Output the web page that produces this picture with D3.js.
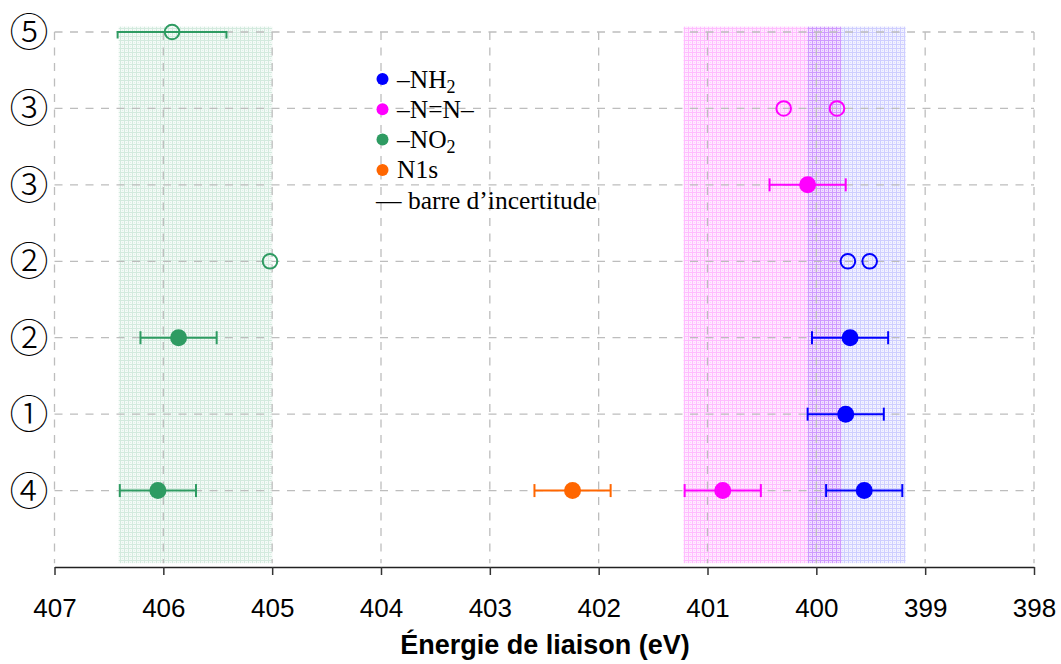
<!DOCTYPE html>
<html><head><meta charset="utf-8">
<script src="https://cdn.jsdelivr.net/npm/d3@7"></script>
<style>body{margin:0;background:#fff}svg{display:block}</style>
</head><body><svg id="c" width="1061" height="664"></svg>
<script>
// ---- data ----
const rowLabels = ["④","①","②","②","③","③","⑤"]; // rows 1..7, bottom to top
const xTicks = [407,406,405,404,403,402,401,400,399,398];
const legendItems = ["NH2","NN","NO2","N1s"];
const legendText = ["–NH|2","–N=N–","–NO|2","N1s"];
const bands = [
  {series:"NO2", from:406.41, to:405.0},
  {series:"NN",  from:401.22, to:399.77},
  {series:"NH2", from:400.08, to:399.18}
];
const nh2Filled = [{row:1,x:399.56,err:0.35},{row:2,x:399.73,err:0.35},{row:3,x:399.69,err:0.35}];
const nh2Open   = [{row:4,x:399.71},{row:4,x:399.51}];
const nnFilled  = [{row:1,x:400.86,err:0.35},{row:5,x:400.08,err:0.35}];
const nnOpen    = [{row:6,x:400.30},{row:6,x:399.81}];
const no2Filled = [{row:1,x:406.05,err:0.35},{row:3,x:405.86,err:0.35}];
const no2Open   = [{row:4,x:405.02},{row:7,x:405.92,err:0.5}];
const n1sFilled = [{row:1,x:402.24,err:0.35}];

// ---- styles ----
const colors = {NH2:"#0000ff", NN:"#ff00ff", NO2:"#2e9b62", N1s:"#ff6600"};
const svg = d3.select("#c");
const x = d3.scaleLinear().domain([407,398]).range([54.5,1034]);
const y = d3.scaleLinear().domain([0,7]).range([567,32]);

// patterns
const defs = svg.append("defs");
const patCol = {NO2:[46,155,98,0.05,0.17], NN:[255,0,255,0.08,0.2], NH2:[40,40,255,0.06,0.18]};
Object.entries(patCol).forEach(([k,v])=>{
  const p = defs.append("pattern").attr("id","p"+k).attr("patternUnits","userSpaceOnUse")
    .attr("width",4).attr("height",4);
  const c = `rgb(${v[0]},${v[1]},${v[2]})`;
  p.append("rect").attr("width",4).attr("height",4).attr("fill",c).attr("fill-opacity",v[3]);
  p.append("rect").attr("x",0).attr("y",0).attr("width",4).attr("height",1).attr("fill",c).attr("fill-opacity",v[4]);
  p.append("rect").attr("x",0).attr("y",1).attr("width",1).attr("height",3).attr("fill",c).attr("fill-opacity",v[4]);
  p.append("rect").attr("x",2).attr("y",2).attr("width",1).attr("height",1).attr("fill",c).attr("fill-opacity",v[4]*0.6);
});
defs.append("clipPath").attr("id","clipE").append("rect")
  .attr("x",0).attr("y",y(7)-1).attr("width",1061).attr("height",600);

// bands
svg.append("g").selectAll("rect").data(bands).join("rect")
  .attr("x",d=>x(d.from)).attr("width",d=>x(d.to)-x(d.from))
  .attr("y",y(7.07)).attr("height",y(0.05)-y(7.07))
  .attr("fill",d=>`url(#p${d.series})`);

// grid
const grid = svg.append("g").attr("stroke","#bdbdbd").attr("stroke-width",1.3).attr("stroke-dasharray","8,7.5");
grid.selectAll(".v").data(xTicks).join("line")
  .attr("x1",d=>x(d)).attr("x2",d=>x(d)).attr("y1",y(7)).attr("y2",y(0.05));
grid.selectAll(".h").data(d3.range(1,8)).join("line")
  .attr("x1",x(407)).attr("x2",x(398)).attr("y1",d=>y(d)).attr("y2",d=>y(d));

// x axis
const ax = svg.append("g").attr("transform",`translate(0,${y(0)})`)
  .call(d3.axisBottom(x).tickValues(xTicks).tickFormat(d3.format("d")).tickSize(8).tickSizeOuter(0));
ax.select(".domain").attr("stroke","#222").attr("stroke-width",1.5);
ax.selectAll(".tick line").attr("stroke","#333").attr("stroke-width",1.5);
ax.selectAll(".tick text").attr("font-family","'Liberation Sans', Arial, sans-serif")
  .attr("font-size",26).attr("fill","#000").attr("dy",0).attr("y",50);
svg.append("text").attr("x",545).attr("y",654).attr("text-anchor","middle")
  .attr("font-family","'Liberation Sans', Arial, sans-serif").attr("font-weight","bold")
  .attr("font-size",27).text("Énergie de liaison (eV)");

// y labels
svg.append("g").selectAll("text").data(rowLabels).join("text")
  .attr("x",29).attr("y",(d,i)=>y(i+1)).attr("dy","0.36em").attr("text-anchor","middle")
  .attr("font-family","'Noto Sans CJK JP', 'DejaVu Sans', sans-serif").attr("font-size",39)
  .attr("font-weight",300)
  .text(d=>d);

// error bars + points
const sets = [
  [n1sFilled,"N1s",true],[no2Filled,"NO2",true],[no2Open,"NO2",false],
  [nnFilled,"NN",true],[nnOpen,"NN",false],[nh2Filled,"NH2",true],[nh2Open,"NH2",false]
];
const eg = svg.append("g").attr("clip-path","url(#clipE)");
const pg = svg.append("g");
sets.forEach(([data,key,filled])=>{
  const c = colors[key];
  const withErr = data.filter(d=>d.err);
  const g = eg.append("g").attr("stroke",c).attr("stroke-width",2);
  g.selectAll(".eb").data(withErr).join("line")
    .attr("x1",d=>x(d.x+d.err)).attr("x2",d=>x(d.x-d.err)).attr("y1",d=>y(d.row)).attr("y2",d=>y(d.row));
  g.selectAll(".c1").data(withErr).join("line")
    .attr("x1",d=>x(d.x+d.err)).attr("x2",d=>x(d.x+d.err)).attr("y1",d=>y(d.row)-6.5).attr("y2",d=>y(d.row)+6.5);
  g.selectAll(".c2").data(withErr).join("line")
    .attr("x1",d=>x(d.x-d.err)).attr("x2",d=>x(d.x-d.err)).attr("y1",d=>y(d.row)-6.5).attr("y2",d=>y(d.row)+6.5);
  pg.append("g").selectAll("circle").data(data).join("circle")
    .attr("cx",d=>x(d.x)).attr("cy",d=>y(d.row))
    .attr("r",filled?8.5:7.3)
    .attr("fill",filled?c:"none").attr("stroke",filled?"none":c).attr("stroke-width",2);
});

// legend
const lg = svg.append("g").attr("font-family","'Liberation Serif', 'Times New Roman', serif").attr("font-size",25.5);
legendItems.forEach((k,i)=>{
  const cy = 79 + i*30.3;
  lg.append("circle").attr("cx",382.5).attr("cy",cy).attr("r",6).attr("fill",colors[k]);
  const parts = legendText[i].split("|");
  const t = lg.append("text").attr("x",397).attr("y",cy+8.5);
  t.append("tspan").text(parts[0]);
  if (parts[1]) t.append("tspan").attr("font-size",18).attr("dy",5).text(parts[1]);
});
lg.append("text").attr("x",376).attr("y",79+4*30.3+8.5).text("— barre d’incertitude");
</script></body></html>
